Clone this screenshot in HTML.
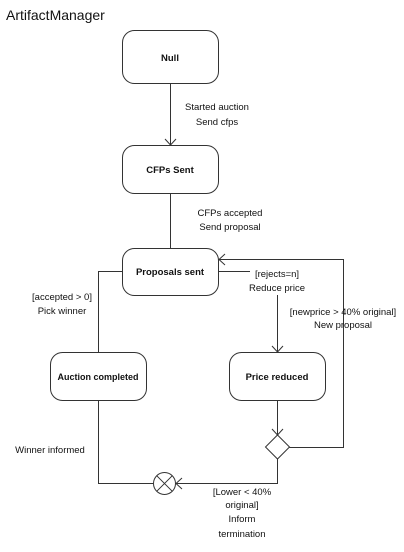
<!DOCTYPE html>
<html><head><style>
body{margin:0;background:#fff;}
svg text{font-family:"Liberation Sans",sans-serif;}
</style></head><body>
<svg width="404" height="547" viewBox="0 0 404 547" xmlns="http://www.w3.org/2000/svg">
<g fill="none" stroke="#333" stroke-width="1">
<rect x="122.5" y="30.5" width="96" height="53" rx="12"/>
<rect x="122.5" y="145.5" width="96" height="48" rx="12"/>
<rect x="122.5" y="248.5" width="96" height="47" rx="12"/>
<rect x="50.5" y="352.5" width="96" height="48" rx="12"/>
<rect x="229.5" y="352.5" width="96" height="48" rx="12"/>
<path d="M170.5 83.5V145 M165 139l5.5 6 5.5-6"/>
<path d="M170.5 193.5V248"/>
<path d="M122.5 271.5H98.5V352.5"/>
<path d="M98.5 400.5V483.5H153"/>
<path d="M218.5 271.5H250"/>
<path d="M277.5 295V352 M272 346l5.5 6 5.5-6"/>
<path d="M277.5 400.5V435 M272 429l5.5 6 5.5-6"/>
<path d="M277.5 435l12 12-12 12-12-12z"/>
<path d="M289.5 447.5H343.5V259.5H219 M225 254l-6 5.5 6 5.5"/>
<path d="M277.5 459V483.5H176 M182 478l-6 5.5 6 5.5"/>
<circle cx="164.5" cy="483.5" r="11"/>
<path d="M156.7 475.7l15.6 15.6 M172.3 475.7l-15.6 15.6"/>
</g>
<g font-size="9.5" fill="#111" text-anchor="middle">
<text x="170" y="61" font-weight="bold">Null</text>
<text x="170" y="173" font-weight="bold">CFPs Sent</text>
<text x="170" y="275" font-weight="bold">Proposals sent</text>
<text x="98" y="380" font-weight="bold" font-size="9">Auction completed</text>
<text x="277" y="380" font-weight="bold">Price reduced</text>
<text x="217" y="110">Started auction</text>
<text x="217" y="125">Send cfps</text>
<text x="230" y="216">CFPs accepted</text>
<text x="230" y="230">Send proposal</text>
<text x="62" y="300">[accepted &gt; 0]</text>
<text x="62" y="314">Pick winner</text>
<text x="277" y="277">[rejects=n]</text>
<text x="277" y="291">Reduce price</text>
<text x="343" y="315">[newprice &gt; 40% original]</text>
<text x="343" y="328">New proposal</text>
<text x="50" y="453">Winner informed</text>
<text x="242" y="495">[Lower &lt; 40%</text>
<text x="242" y="508">original]</text>
<text x="242" y="522">Inform</text>
<text x="242" y="537">termination</text>
</g>
<text x="6" y="20" font-size="14" fill="#111">ArtifactManager</text>
</svg>
</body></html>
